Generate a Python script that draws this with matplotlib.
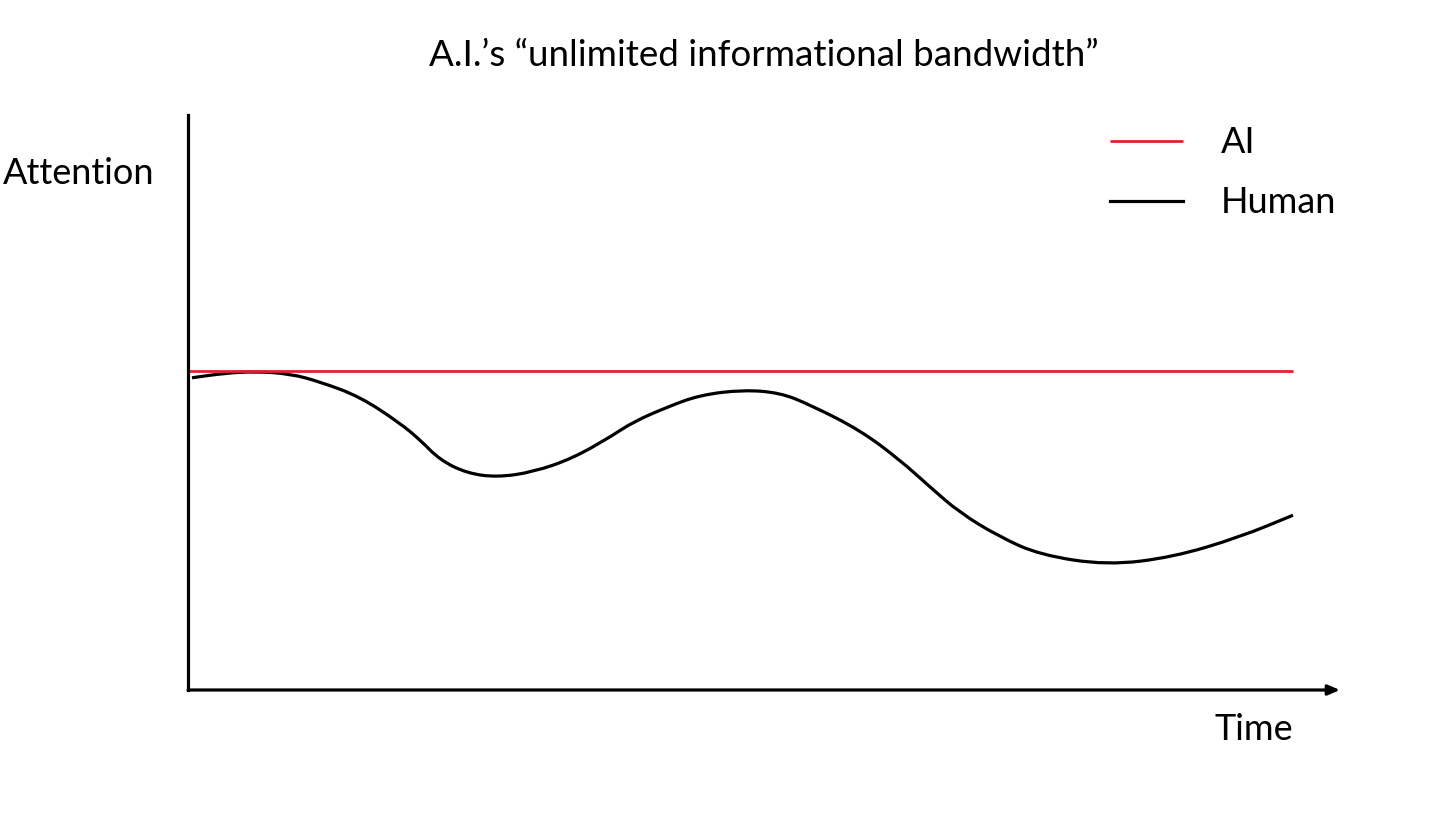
import matplotlib
matplotlib.use('Agg')
import matplotlib.pyplot as plt
from matplotlib.path import Path
from matplotlib.patches import PathPatch

plt.rcParams['font.family'] = ['Lato', 'DejaVu Sans']

# attention levels (time 0-100, attention 0-100)
ai_time = [0, 100]
ai_attention = [55.5, 55.5]

human_time = [0.36, 3.35, 6.06, 9.23, 11.95, 15.57, 19.19, 21.0, 22.8, 25.25,
              27.96, 31.22, 34.84, 38.46, 40.27, 43.35, 46.33, 50.23, 53.57,
              56.29, 60.81, 64.43, 67.15, 69.86, 73.48, 77.1, 83.17,
              89.14, 95.2, 100]
human_attention = [54.3, 55.1, 55.4, 55.0, 53.6, 51.0, 46.4, 43.5, 40.0, 37.7,
                   37.0, 37.9, 40.3, 44.3, 46.6, 49.2, 51.3, 52.2, 51.7,
                   49.6, 45.2, 40.0, 35.3, 30.8, 26.6, 23.5, 21.7,
                   23.1, 26.6, 30.4]

red = '#e4202f'
W, H = 1456, 819


def smooth_path(xs, ys):
    """quadratic bezier through the midpoints of the read points"""
    pts = list(zip(xs, ys))
    verts = [pts[0]]
    codes = [Path.MOVETO]
    mid = lambda a, b: ((a[0] + b[0]) / 2, (a[1] + b[1]) / 2)
    verts.append(mid(pts[0], pts[1]))
    codes.append(Path.LINETO)
    for i in range(1, len(pts) - 1):
        verts += [pts[i], mid(pts[i], pts[i + 1])]
        codes += [Path.CURVE3, Path.CURVE3]
    verts.append(pts[-1])
    codes.append(Path.LINETO)
    return Path(verts, codes)


fig = plt.figure(figsize=(W / 100, H / 100), dpi=100)
ax = fig.add_axes([188 / W, 1 - 690 / H, (1340 - 188) / W, 575 / H])
ax.set_xlim(0, 104.25)
ax.set_ylim(0, 100)

ax.plot(ai_time, ai_attention, color=red, lw=2, label='AI', solid_capstyle='butt')
ax.add_patch(PathPatch(smooth_path(human_time, human_attention), fill=False,
                       edgecolor='black', lw=2.3, capstyle='butt'))
# proxy for the legend
ax.plot([], [], color='black', lw=2.3, label='Human')

for s in ['top', 'right', 'bottom']:
    ax.spines[s].set_visible(False)
ax.spines['left'].set_linewidth(2.3)
ax.set_xticks([])
ax.set_yticks([])

# x axis with arrow head
ax.annotate('', xy=(1, 0), xytext=(0, 0), xycoords='axes fraction',
            arrowprops=dict(arrowstyle='-|>,head_length=0.7,head_width=0.3',
                            lw=2.3, color='black', shrinkA=0, shrinkB=0))

fig.text(764 / W, 1 - 56 / H, 'A.I.\u2019s \u201cunlimited informational bandwidth\u201d',
         ha='center', va='center', fontsize=26.5)
fig.text(3 / W, 1 - 173 / H, 'Attention', ha='left', va='center', fontsize=26)
fig.text(1293 / W, 1 - 730 / H, 'Time', ha='right', va='center', fontsize=26)

ax.legend(loc='upper left', bbox_to_anchor=(1096 / W, 1 - 112 / H),
          bbox_transform=fig.transFigure, frameon=False, fontsize=26,
          handlelength=2.0, handletextpad=1.05, labelspacing=0.74,
          borderaxespad=0)

fig.savefig('out.png', dpi=100)
